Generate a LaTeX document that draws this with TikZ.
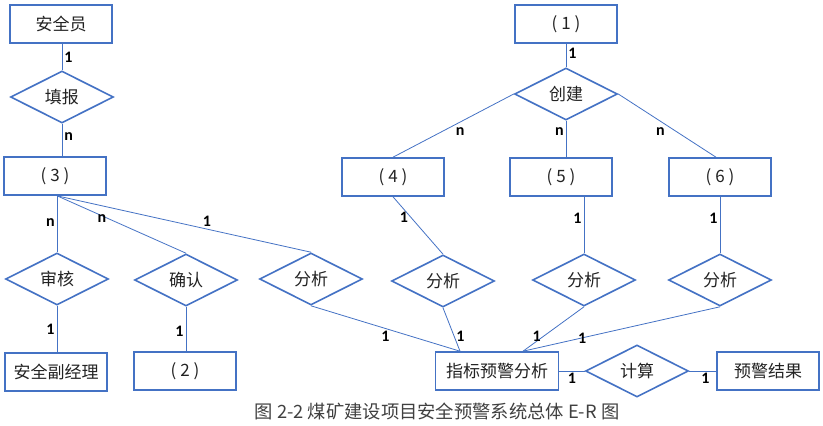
\documentclass[tikz,border=0pt]{standalone}
\usepackage{fontspec}
\setmainfont{Noto Sans CJK SC}
\newfontfamily\cardfont{Carlito}
\usepackage{tikz}
\usetikzlibrary{shapes.geometric,positioning,calc}
\definecolor{erblue}{HTML}{4472C4}
\definecolor{captxt}{HTML}{404040}
\definecolor{nametxt}{HTML}{222222}

\begin{document}
\begin{tikzpicture}[x=1pt,y=-1pt,
  ent/.style={draw=erblue,line width=1.6pt,minimum width=102pt,minimum height=38pt,
              inner sep=0pt,text=nametxt,font=\fontsize{17}{20}\selectfont},
  rel/.style={draw=erblue,line width=1.6pt,diamond,aspect=2,minimum width=103pt,
              minimum height=52pt,inner sep=0pt,text=nametxt,font=\fontsize{17}{20}\selectfont},
  link/.style={draw=erblue,line width=0.8pt},
  card/.style={font=\cardfont\fontsize{16}{18}\selectfont\bfseries,inner sep=2pt}
]
\useasboundingbox (0,0) rectangle (823,426);
% entities and relationships
\node[ent] (aqy) at (61,24) {安全员};
\node[rel] (tb) at (62,97) {填报};
\node[ent] (e3) at (55,176) {( 3 )};
\node[rel] (sh) at (57,279) {审核};
\node[ent] (fjl) at (56,372) {安全副经理};
\node[rel] (qr) at (186,280) {确认};
\node[ent] (e2) at (185,371) {( 2 )};
\node[rel] (fx1) at (311,279) {分析};
\node[ent] (e1) at (566,24) {( 1 )};
\node[rel] (cj) at (566,94) {创建};
\node[ent] (e4) at (393,177) {( 4 )};
\node[ent] (e5) at (561,177) {( 5 )};
\node[ent] (e6) at (720,177) {( 6 )};
\node[rel] (fx2) at (443,281) {分析};
\node[rel] (fx3) at (584,280) {分析};
\node[rel] (fx4) at (720,280) {分析};
\node[ent,minimum width=123pt] (zb) at (497,371) {指标预警分析};
\node[rel] (js) at (637,371) {计算};
\node[ent] (jg) at (768,371) {预警结果};
\node[text=captxt,font=\fontsize{18.3}{21}\selectfont] (cap) at (437,411)
  {图 2-2 煤矿建设项目安全预警系统总体 E-R 图};

\coordinate (s3) at ([xshift=2pt]e3.south);
\coordinate (zl) at ([xshift=-37pt]zb.north);
\coordinate (zr) at ([xshift=26pt]zb.north);

% connectors
\draw[link] (tb.north |- aqy.south) -- node[card,right]{1} (tb.north);
\draw[link] (tb.south) -- node[card,right,pos=0.38]{n} (tb.south |- e3.north);
\draw[link] (e1.south) -- node[card,right,pos=0.42]{1} (cj.north);
\draw[link] (cj.west) -- node[card,below right,pos=0.5]{n} (e4.north);
\draw[link] (cj.south) -- node[card,left,pos=0.3]{n} (cj.south |- e5.north);
\draw[link] (cj.east) -- node[card,below left,pos=0.5]{n} ([xshift=-4pt]e6.north);
\draw[link] (s3) -- node[card,left,pos=0.47]{n} (sh.north);
\draw[link] (s3) -- node[card,left,pos=0.4]{n} (qr.north);
\draw[link] (s3) -- node[card,above,pos=0.59]{1} (fx1.north);
\draw[link] (sh.south) -- node[card,left,pos=0.5]{1} (sh.south |- fjl.north);
\draw[link] (qr.south) -- node[card,left,pos=0.55]{1} (qr.south |- e2.north);
\draw[link] (e4.south) -- node[card,left,pos=0.35]{1} (fx2.north);
\draw[link] (fx3.north |- e5.south) -- node[card,left,pos=0.38]{1} (fx3.north);
\draw[link] (e6.south) -- node[card,left,pos=0.38]{1} (fx4.north);
\draw[link] (fx1.south) -- node[card,below,pos=0.5]{1} (zl);
\draw[link] (fx2.south) -- node[card,right,pos=0.65]{1} (zl);
\draw[link] (fx3.south) -- node[card,left,pos=0.67]{1} (zr);
\draw[link] (fx4.south) -- node[card,pos=0.7]{1} (zr);
\draw[link] (zb.east) -- node[card,below,pos=0.5]{1} (js.west);
\draw[link] (js.east) -- node[card,below,pos=0.6]{1} (jg.west);
\end{tikzpicture}
\end{document}
